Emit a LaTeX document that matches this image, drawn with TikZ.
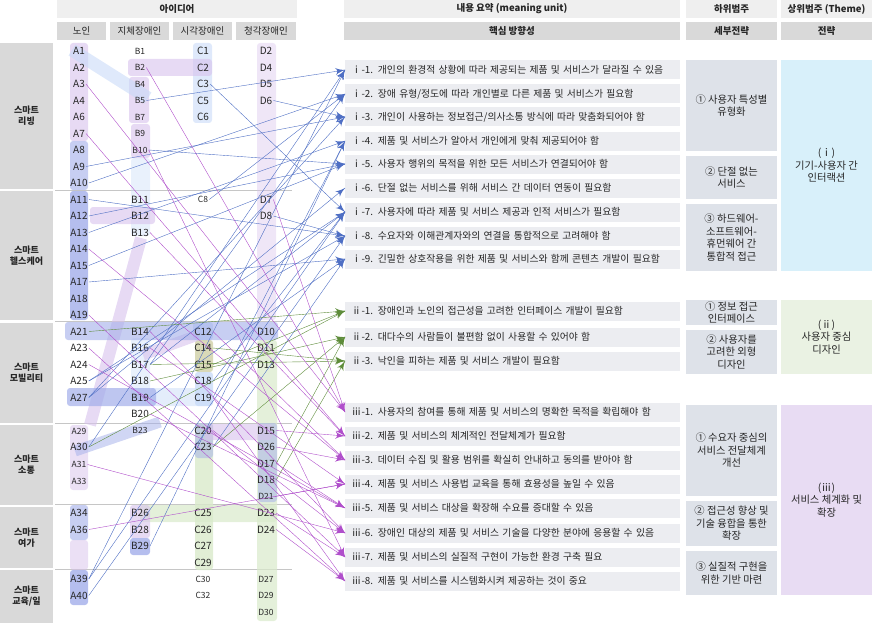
\documentclass[tikz,border=0pt]{standalone}
\usepackage{fontspec}
\setmainfont{Noto Sans CJK KR}
\usepackage{tikz}
\usetikzlibrary{arrows}
\usetikzlibrary{decorations.markings}
\usetikzlibrary{positioning}
\definecolor{hdrlight}{HTML}{EFEFEF}
\definecolor{hdrdark}{HTML}{D9D9D9}
\definecolor{mugray}{HTML}{ECEDF1}
\definecolor{subgray}{HTML}{DEE2E9}
\definecolor{themei}{HTML}{D8F0FA}
\definecolor{themeii}{HTML}{EAF2E3}
\definecolor{themeiii}{HTML}{E8DCF3}
\definecolor{bandP}{HTML}{D7C1EC}
\definecolor{bandB}{HTML}{A2AEEA}
\definecolor{bandL}{HTML}{C9DBF8}
\definecolor{bandG}{HTML}{D9EACB}
\definecolor{bandO}{HTML}{C9C99A}
\definecolor{ablue}{HTML}{4F6FC4}
\definecolor{agreen}{HTML}{5E8C3A}
\definecolor{apurple}{HTML}{B04FCB}
\definecolor{txt}{HTML}{262626}
\tikzset{->/.style = {decoration={markings,
                                  mark=at position 1 with {\arrow[scale=2.4]{latex'}}},
                      postaction={decorate}}}

\begin{document}
\begin{tikzpicture}[x=1pt, y=-1pt, font=\fontsize{10}{12}\selectfont, text=txt,
    hdr/.style = {fill=hdrlight, minimum height=18pt, inner sep=0pt, font=\fontsize{9.5}{11}\selectfont\bfseries},
    subhdr/.style = {fill=hdrdark, minimum height=18pt, inner sep=0pt, font=\fontsize{9.5}{11}\selectfont},
    cat/.style = {fill=hdrdark, minimum width=53pt, inner sep=0pt, align=center, font=\fontsize{9}{11}\selectfont\bfseries},
    code/.style = {inner sep=1pt, font=\fontsize{10}{10}\selectfont},
    smallcode/.style = {inner sep=1pt, font=\fontsize{8.5}{9}\selectfont},
    mu/.style = {fill=mugray, anchor=west, minimum height=19pt, text width=322pt, inner xsep=6.5pt, inner ysep=0pt, align=left, font=\fontsize{9.8}{11}\selectfont},
    sub/.style = {fill=subgray, minimum width=91pt, inner sep=0pt, align=center, font=\fontsize{10.3}{12.5}\selectfont},
    theme/.style = {minimum width=91pt, inner sep=0pt, align=center, font=\fontsize{10.3}{12.5}\selectfont},
    band/.style = {rounded corners=3pt, opacity=0.6},
    sep/.style = {draw=gray!45, line width=0.6pt}]
  \useasboundingbox (0,0) rectangle (872,623);

  % headers
  \node [hdr, minimum width=240pt] (idea) at (177,9) {아이디어};
  \node [subhdr, minimum width=49pt] (old) at (81.5,31) {노인};
  \node [subhdr, minimum width=59pt] (phys) at (139.5,31) {지체장애인};
  \node [subhdr, minimum width=59pt] (vis) at (202.5,31) {시각장애인};
  \node [subhdr, minimum width=60pt] (hear) at (266,31) {청각장애인};
  \node [hdr, minimum width=336pt] (summary) at (512,9) {내용 요약 (meaning unit)};
  \node [hdr, fill=hdrdark, minimum width=336pt] (core) at (512,31) {핵심 방향성};
  \node [hdr, minimum width=91pt] (lower) at (731.5,9) {하위범주};
  \node [hdr, fill=hdrdark, minimum width=91pt] (detail) at (731.5,31) {세부전략};
  \node [hdr, minimum width=91pt] (upper) at (826.5,9) {상위범주 (Theme)};
  \node [hdr, fill=hdrdark, minimum width=91pt] (strat) at (826.5,31) {전략};

  % categories
  \node [cat, minimum height=146pt] (living) at (26.5,116) {스마트\\리빙};
  \node [cat, minimum height=129pt] (health) at (26.5,255.5) {스마트\\헬스케어};
  \node [cat, minimum height=100pt] (mobility) at (26.5,373) {스마트\\모빌리티};
  \node [cat, minimum height=80pt] (comm) at (26.5,465) {스마트\\소통};
  \node [cat, minimum height=61pt] (leisure) at (26.5,537.5) {스마트\\여가};
  \node [cat, minimum height=53pt] (edu) at (26.5,596.5) {스마트\\교육/일};
  \foreach \y in {190, 321.5, 423.5, 504.5, 569}
    \draw [sep] (55,\y) -- (292,\y);

  % highlight bands
  \fill [band, bandP] (70,43) rectangle (88,141);
  \fill [band, bandB] (70,141) rectangle (88,190);
  \fill [band, bandB, opacity=0.8] (70,191) rectangle (88,320);
  \fill [band, bandP, opacity=0.4] (257,43) rectangle (276,320);
  \fill [band, bandG, opacity=0.7] (257,340) rectangle (277,621);
  \fill [band, bandB, opacity=0.5] (258,423) rectangle (277,502);
  \fill [band, bandL] (193,43) rectangle (212,123);
  \fill [band, bandP] (128,59) rectangle (212,76);
  \fill [band, bandP] (129,77) rectangle (149,123);
  \fill [band, bandP] (131,124) rectangle (150,158);
  \fill [band, bandL, opacity=0.4] (131,158) rectangle (150,236);
  \draw [bandL, line width=13pt, opacity=0.6] (72,50) -- (148,98);
  \fill [band, bandP] (90,207) rectangle (155,224);
  \draw [bandP, line width=12pt, opacity=0.6] (141,238) -- (90,425);
  \fill [band, bandP, opacity=0.5] (70,425) rectangle (88,490);
  \fill [band, bandL, opacity=0.4] (131,338) rectangle (150,405);
  \fill [band, bandL, opacity=0.5] (150,388) rectangle (212,406);
  \fill [band, bandB, opacity=0.7] (67,388) rectangle (156,406);
  \fill [band, bandL, opacity=0.8] (193,322) rectangle (213,340);
  \fill [band, bandO, opacity=0.7] (195,340) rectangle (213,372);
  \fill [band, bandL, opacity=0.8] (195,372) rectangle (213,406);
  \fill [band, bandG, opacity=0.8] (195,423) rectangle (213,570);
  \fill [band, bandB, opacity=0.5] (195,423) rectangle (213,458);
  \fill [band, bandP, opacity=0.6] (205,424) rectangle (272,440);
  \draw [bandP, line width=11pt, opacity=0.6] (143,355) -- (198,335);
  \fill [band, bandB, opacity=0.6] (65,322) rectangle (278,340);
  \draw [bandB, line width=11pt, opacity=0.5] (75,451) -- (160,422);
  \fill [band, bandB, opacity=0.6] (70,505) rectangle (88,540);
  \fill [band, bandP, opacity=0.5] (70,540) rectangle (88,570);
  \fill [band, bandB, opacity=0.8] (70,570) rectangle (88,605);
  \fill [band, bandG, opacity=0.7] (140,505) rectangle (277,522);
  \fill [band, bandP] (130,505) rectangle (150,538);
  \fill [band, bandB, opacity=0.8] (130,538) rectangle (150,555);

  % idea codes
  \foreach \n/\r in {A1/0,A2/1,A3/2,A4/3,A6/4,A7/5,A8/6,A9/7,A10/8,A11/9,A12/10,A13/11,A14/12,
                     A15/13,A17/14,A18/15,A19/16,A21/17,A23/18,A24/19,A25/20,A27/21,A30/24,
                     A34/28,A36/29,A39/32,A40/33}
    \node [code] (\n) at (79,{51+16.5*\r}) {\n};
  \foreach \n/\r in {A29/23,A31/25,A33/26}
    \node [smallcode] (\n) at (79,{52+16.5*\r}) {\n};
  \foreach \n/\r in {B1/0,B2/1,B4/2,B5/3,B7/4,B9/5,B10/6,B23/23}
    \node [smallcode] (\n) at (140,{51+16.5*\r}) {\n};
  \foreach \n/\r in {B11/9,B12/10,B13/11,B14/17,B16/18,B17/19,B18/20,B19/21,B20/22,
                     B26/28,B28/29,B29/30}
    \node [code] (\n) at (140,{51+16.5*\r}) {\n};
  \foreach \n/\r in {C1/0,C2/1,C3/2,C5/3,C6/4,C12/17,C14/18,C15/19,C18/20,C19/21,C20/23,
                     C23/24,C25/28,C26/29,C27/30,C29/31}
    \node [code] (\n) at (203,{51+16.5*\r}) {\n};
  \foreach \n/\r in {C8/9,C30/32,C32/33}
    \node [smallcode] (\n) at (203,{51+16.5*\r}) {\n};
  \foreach \n/\r in {D2/0,D4/1,D5/2,D6/3,D7/9,D8/10,D10/17,D11/18,D13/19,D15/23,D26/24,
                     D17/25,D18/26,D23/28,D24/29}
    \node [code] (\n) at (266,{51+16.5*\r}) {\n};
  \foreach \n/\r in {D21/27,D27/32,D29/33,D30/34}
    \node [smallcode] (\n) at (266,{51+16.5*\r}) {\n};

  % meaning units
  \node [mu] (i1) at (345,70) {ⅰ-1. 개인의 환경적 상황에 따라 제공되는 제품 및 서비스가 달라질 수 있음};
  \node [mu] (i2) at (345,94) {ⅰ-2. 장애 유형/정도에 따라 개인별로 다른 제품 및 서비스가 필요함};
  \node [mu] (i3) at (345,117) {ⅰ-3. 개인이 사용하는 정보접근/의사소통 방식에 따라 맞춤화되어야 함};
  \node [mu] (i4) at (345,141) {ⅰ-4. 제품 및 서비스가 알아서 개인에게 맞춰 제공되어야 함};
  \node [mu] (i5) at (345,164) {ⅰ-5. 사용자 행위의 목적을 위한 모든 서비스가 연결되어야 함};
  \node [mu] (i6) at (345,188) {ⅰ-6. 단절 없는 서비스를 위해 서비스 간 데이터 연동이 필요함};
  \node [mu] (i7) at (345,212) {ⅰ-7. 사용자에 따라 제품 및 서비스 제공과 인적 서비스가 필요함};
  \node [mu] (i8) at (345,236) {ⅰ-8. 수요자와 이해관계자와의 연결을 통합적으로 고려해야 함};
  \node [mu] (i9) at (345,259) {ⅰ-9. 긴밀한 상호작용을 위한 제품 및 서비스와 함께 콘텐츠 개발이 필요함};
  \node [mu] (ii1) at (345,311) {ⅱ-1. 장애인과 노인의 접근성을 고려한 인터페이스 개발이 필요함};
  \node [mu] (ii2) at (345,337) {ⅱ-2. 대다수의 사람들이 불편함 없이 사용할 수 있어야 함};
  \node [mu] (ii3) at (345,361) {ⅱ-3. 낙인을 피하는 제품 및 서비스 개발이 필요함};
  \node [mu] (iii1) at (345,412) {ⅲ-1. 사용자의 참여를 통해 제품 및 서비스의 명확한 목적을 확립해야 함};
  \node [mu] (iii2) at (345,436) {ⅲ-2. 제품 및 서비스의 체계적인 전달체계가 필요함};
  \node [mu] (iii3) at (345,460) {ⅲ-3. 데이터 수집 및 활용 범위를 확실히 안내하고 동의를 받아야 함};
  \node [mu] (iii4) at (345,484) {ⅲ-4. 제품 및 서비스 사용법 교육을 통해 효용성을 높일 수 있음};
  \node [mu] (iii5) at (345,508) {ⅲ-5. 제품 및 서비스 대상을 확장해 수요를 증대할 수 있음};
  \node [mu] (iii6) at (345,533) {ⅲ-6. 장애인 대상의 제품 및 서비스 기술을 다양한 분야에 응용할 수 있음};
  \node [mu] (iii7) at (345,557) {ⅲ-7. 제품 및 서비스의 실질적 구현이 가능한 환경 구축 필요};
  \node [mu] (iii8) at (345,581) {ⅲ-8. 제품 및 서비스를 시스템화시켜 제공하는 것이 중요};

  % sub-strategies
  \node [sub, minimum height=91pt] (si1) at (731.5,105.5) {① 사용자 특성별\\유형화};
  \node [sub, minimum height=43pt] (si2) at (731.5,177.5) {② 단절 없는\\서비스};
  \node [sub, minimum height=67pt] (si3) at (731.5,237.5) {③ 하드웨어-\\소프트웨어-\\휴먼웨어 간\\통합적 접근};
  \node [sub, minimum height=25pt] (sii1) at (731.5,312.5) {① 정보 접근\\인터페이스};
  \node [sub, minimum height=44pt] (sii2) at (731.5,352) {② 사용자를\\고려한 외형\\디자인};
  \node [sub, minimum height=91pt] (siii1) at (731.5,450.5) {① 수요자 중심의\\서비스 전달체계\\개선};
  \node [sub, minimum height=45pt] (siii2) at (731.5,523.5) {② 접근성 향상 및\\기술 융합을 통한\\확장};
  \node [sub, minimum height=44pt] (siii3) at (731.5,573) {③ 실질적 구현을\\위한 기반 마련};

  % themes
  \node [theme, fill=themei, minimum height=211pt] (ti) at (826.5,165.5) {(ⅰ)\\기기-사용자 간\\인터랙션};
  \node [theme, fill=themeii, minimum height=74pt] (tii) at (826.5,337) {(ⅱ)\\사용자 중심\\디자인};
  \node [theme, fill=themeiii, minimum height=190pt] (tiii) at (826.5,500) {(ⅲ)\\서비스 체계화 및\\확장};

  % connectors
  \foreach \s/\t in {B5/i1,A30/i1,A39/i1,C3/i7,A10/i2,C8/i2,B17/i2,A9/i3,A27/i3,D6/i3,
                     A13/i4,B29/i4,C19/i4,A12/i5,A15/i5,B10/i5,A27/i6,A25/i7,B17/i7,C18/i7,
                     A39/i7,A11/i8,A25/i8,A40/i8,D8/i8,B19/i9,A17/i9,C23/i9}
    \draw [->, ablue, line width=0.4pt] (\s.east) -- (\t.west);
  \foreach \s/\t in {A21/ii1,C15/ii1,A30/ii1,B18/ii2,D17/ii2,C23/ii2,B17/ii3,D18/ii3,C14/ii3}
    \draw [->, agreen, line width=0.4pt] (\s.east) -- (\t.west);
  \foreach \s/\t in {A3/iii1,B2/iii1,D7/iii1,A7/iii2,B13/iii2,D15/iii2,A14/iii3,C12/iii3,
                     D26/iii3,D21/iii4,A36/iii4,B16/iii4,A24/iii5,B20/iii5,D17/iii5,
                     A31/iii6,C20/iii6,B14/iii6,A19/iii7,B10/iii7,D23/iii7,A23/iii8,
                     C19/iii8,D24/iii8}
    \draw [->, apurple, line width=0.4pt] (\s.east) -- (\t.west);
\end{tikzpicture}
\end{document}
